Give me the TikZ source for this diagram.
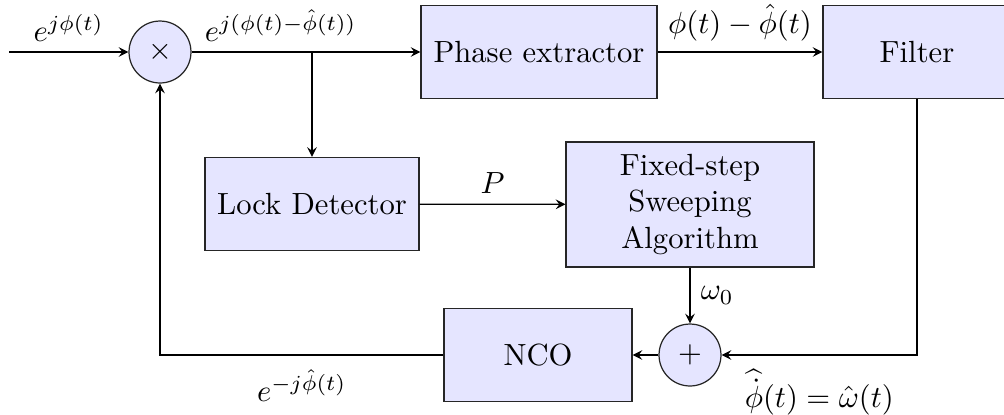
\documentclass[tikz,border=0pt]{standalone}
\usetikzlibrary{arrows.meta,calc}
\begin{document}
\begin{tikzpicture}[x=0.011468cm,y=-0.011468cm,
  blk/.style={draw=black!85, fill=blue!10, minimum width=2.156cm, minimum height=1.067cm, align=center, inner sep=2pt},
  sumc/.style={draw=black!85, fill=blue!10, circle, minimum size=0.711cm, inner sep=0pt},
  arr/.style={-stealth},
  lowlbl/.style={below, yshift=-0.045cm}]
\useasboundingbox (0,0) rectangle (1004,414);
\coordinate (in) at (9,52);
\node[sumc] (mul) at (160,52) {$\times$};
\node[blk, minimum width=2.706cm] (pe) at (539,52) {Phase extractor};
\node[blk] (filt) at (917,52) {Filter};
\coordinate (br) at (312,52);
\node[blk, minimum width=2.454cm] (ld) at (312,204) {Lock Detector};
\node[blk, minimum width=2.844cm, minimum height=1.434cm] (fs) at (690,204.5) {Fixed-step\\Sweeping\\Algorithm};
\node[sumc] (sum) at (690,355) {$+$};
\node[blk] (nco) at (538,355) {NCO};
\coordinate (fc) at (917,355);
\coordinate (mc) at (160,355);

\draw[arr] (in) -- node[above] (l1) {$e^{j\phi(t)}$} (mul);
\draw (mul) -- node[above, pos=0.74] (l2) {$e^{j(\phi(t)-\hat\phi(t))}$} (br);
\draw[arr] (br) -- (pe);
\draw[arr] (br) -- (ld);
\draw[arr] (pe) -- node[above] (l3) {$\phi(t)-\hat\phi(t)$} (filt);
\draw[arr] (ld) -- node[above] (l4) {$P$} (fs);
\draw[arr] (fs) -- node[right] (l5) {$\omega_0$} (sum);
\draw[arr] (filt.south) -- (fc) -- node[lowlbl] (l6) {$\widehat{\dot\phi}(t)=\hat\omega(t)$} (sum);
\draw[arr] (sum) -- (nco);
\draw[arr] (nco) -- node[lowlbl] (l7) {$e^{-j\hat\phi(t)}$} (mc) -- (mul);
\end{tikzpicture}
\end{document}
